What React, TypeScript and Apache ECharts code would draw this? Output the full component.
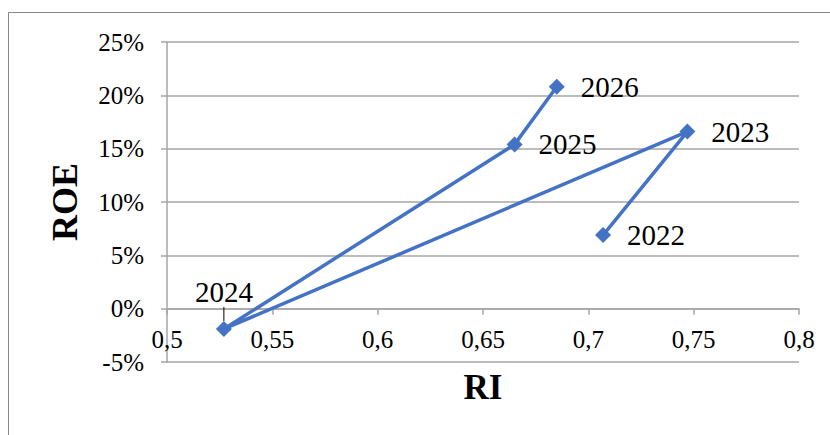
import React, { useEffect, useRef } from "react";
import * as echarts from "echarts";

const years = ["2022", "2023", "2024", "2025", "2026"];
const riValues = [0.707, 0.747, 0.527, 0.665, 0.685];
const roeValues = [0.069, 0.166, -0.019, 0.154, 0.208];

const xName = "RI";
const yName = "ROE";
const xMin = 0.5, xMax = 0.8, xStep = 0.05;
const yMin = -0.05, yMax = 0.25, yStep = 0.05;

export default function App() {
  const ref = useRef<HTMLDivElement>(null);
  useEffect(() => {
    if (!ref.current) return;
    const chart = echarts.init(ref.current, null, { renderer: "svg" });
    const font = "Liberation Serif";
    const gridTop = 42, gridBottom = 73, height = 435;
    const gridH = height - gridTop - gridBottom;
    const zeroOffset = -gridH * (0 - yMin) / (yMax - yMin);
    const data = years.map((y, i) => {
      const item: any = { value: [riValues[i], roeValues[i], y] };
      if (i === 2) {
        item.label = { position: "top", distance: 4, offset: [2, 0] };
        item.labelLine = { show: true, lineStyle: { color: "#000", width: 1 } };
      }
      return item;
    });
    chart.setOption({
      animation: false,
      backgroundColor: "#ffffff",
      graphic: [
        {
          type: "rect",
          shape: { x: 8.5, y: 12.5, width: 840, height: 440 },
          style: { fill: "none", stroke: "#888888", lineWidth: 1 },
          silent: true,
          z: -1,
        },
      ],
      grid: { left: 167, right: 31, top: gridTop, bottom: gridBottom, containLabel: false, outerBoundsMode: "none" },
      xAxis: {
        type: "value",
        min: xMin,
        max: xMax,
        interval: xStep,
        position: "bottom",
        offset: zeroOffset,
        name: xName,
        nameLocation: "middle",
        nameGap: 61,
        nameTextStyle: { fontFamily: font, fontSize: 35, fontWeight: "bold", color: "#000" },
        axisLine: { show: true, onZero: false, lineStyle: { color: "#a6a6a6", width: 1.5 } },
        axisTick: { show: true, length: 6, lineStyle: { color: "#a6a6a6", width: 1.5 } },
        splitLine: { show: false },
        axisLabel: {
          fontFamily: font,
          fontSize: 25,
          color: "#000",
          margin: 18,
          formatter: (v: number) => String(Math.round(v * 100) / 100).replace(".", ","),
        },
      },
      yAxis: {
        type: "value",
        min: yMin,
        max: yMax,
        interval: yStep,
        name: yName,
        nameLocation: "middle",
        nameGap: 84,
        nameTextStyle: { fontFamily: font, fontSize: 36, fontWeight: "bold", color: "#000" },
        axisLine: { show: true, onZero: false, lineStyle: { color: "#a6a6a6", width: 1.5 } },
        axisTick: { show: true, length: 6, lineStyle: { color: "#a6a6a6", width: 1.5 } },
        splitLine: { show: true, lineStyle: { color: "#a6a6a6", width: 1.5 } },
        axisLabel: {
          fontFamily: font,
          fontSize: 25,
          color: "#000",
          margin: 23,
          formatter: (v: number) => Math.round(v * 100) + "%",
        },
      },
      series: [
        {
          type: "line",
          data,
          symbol: "diamond",
          symbolSize: 16,
          lineStyle: { color: "#4472C4", width: 3.5 },
          itemStyle: { color: "#4472C4" },
          labelLayout: (params: any) => (params.dataIndex === 2 ? { dy: -10 } : {}),
          label: {
            show: true,
            position: "right",
            distance: 16,
            fontFamily: font,
            fontSize: 29,
            color: "#000",
            formatter: (p: any) => p.value[2],
          },
        },
      ],
    });
    return () => chart.dispose();
  }, []);
  return <div ref={ref} style={{ width: 830, height: 435, position: "absolute", left: 0, top: 0 }} />;
}
